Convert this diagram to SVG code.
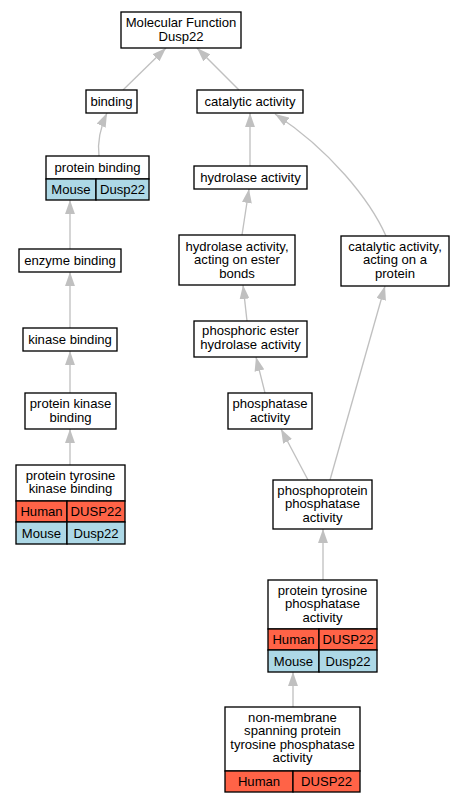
<svg xmlns="http://www.w3.org/2000/svg" width="464" height="803" viewBox="0 0 464 803">
<style>
.n{fill:#fff;stroke:#000;stroke-width:1.33}
.h{fill:#ff6347;stroke:#000;stroke-width:1.33}
.m{fill:#add8e6;stroke:#000;stroke-width:1.33}
text{font-family:"Liberation Sans",Arial,sans-serif;font-size:13.1px;fill:#000;text-anchor:middle}
.e{fill:none;stroke:#c0c0c0;stroke-width:1.33;marker-end:url(#arr)}
</style>
<defs>
<marker id="arr" markerUnits="userSpaceOnUse" markerWidth="14" markerHeight="10" viewBox="0 0 13.3 9.4" refX="13.3" refY="4.7" orient="auto">
<path d="M0,0 L13.3,4.7 L0,9.4 z" fill="#c0c0c0"/>
</marker>
</defs>
<g id="edges">
<path class="e" d="M123,90 L166,48"/>
<path class="e" d="M239,90 L197,48"/>
<path class="e" d="M99,156 C97,140 101,126 107,113"/>
<path class="e" d="M250,166 L250,113"/>
<path class="e" d="M386,236 C370,200 330,150 275,114"/>
<path class="e" d="M70,249 L70,200"/>
<path class="e" d="M70,328 L70,272"/>
<path class="e" d="M70,393 L70,351"/>
<path class="e" d="M70,465 L70,429"/>
<path class="e" d="M242,235 L249,189"/>
<path class="e" d="M247,321 L243,285"/>
<path class="e" d="M265,393 L256,357"/>
<path class="e" d="M308,480 L281,429"/>
<path class="e" d="M330,480 L385,286"/>
<path class="e" d="M323,580 L323,529"/>
<path class="e" d="M293,707 L293,672"/>
</g>
<g id="n_mf">
<rect class="n" x="121" y="12" width="120" height="36"/>
<text x="181" y="27">Molecular Function</text>
<text x="181" y="40.5">Dusp22</text>
</g>
<g id="n_binding">
<rect class="n" x="86" y="90" width="51" height="23"/>
<text x="111.5" y="106">binding</text>
</g>
<g id="n_catalytic">
<rect class="n" x="197" y="90" width="106" height="23"/>
<text x="250" y="106">catalytic activity</text>
</g>
<g id="n_protein_binding">
<rect class="n" x="46" y="156" width="103" height="23"/>
<text x="97.5" y="172">protein binding</text>
<rect class="m" x="46" y="179" width="50" height="21"/>
<rect class="m" x="96" y="179" width="53" height="21"/>
<text x="71" y="194">Mouse</text>
<text x="122.5" y="194">Dusp22</text>
</g>
<g id="n_hydrolase">
<rect class="n" x="194" y="166" width="113" height="23"/>
<text x="250.5" y="182">hydrolase activity</text>
</g>
<g id="n_enzyme_binding">
<rect class="n" x="19" y="249" width="102" height="23"/>
<text x="70" y="265">enzyme binding</text>
</g>
<g id="n_hydrolase_ester">
<rect class="n" x="179" y="235" width="116" height="50"/>
<text x="237" y="250.5">hydrolase activity,</text>
<text x="237" y="264">acting on ester</text>
<text x="237" y="277.5">bonds</text>
</g>
<g id="n_catalytic_protein">
<rect class="n" x="341" y="236" width="108" height="50"/>
<text x="395" y="250.5">catalytic activity,</text>
<text x="395" y="264">acting on a</text>
<text x="395" y="277.5">protein</text>
</g>
<g id="n_kinase_binding">
<rect class="n" x="23" y="328" width="94" height="23"/>
<text x="70" y="344">kinase binding</text>
</g>
<g id="n_phosphoric">
<rect class="n" x="194" y="321" width="113" height="36"/>
<text x="250.5" y="335">phosphoric ester</text>
<text x="250.5" y="348.5">hydrolase activity</text>
</g>
<g id="n_protein_kinase_binding">
<rect class="n" x="25" y="393" width="91" height="36"/>
<text x="70.5" y="408">protein kinase</text>
<text x="70.5" y="421.5">binding</text>
</g>
<g id="n_phosphatase">
<rect class="n" x="228" y="393" width="84" height="36"/>
<text x="270" y="408">phosphatase</text>
<text x="270" y="421.5">activity</text>
</g>
<g id="n_ptk_binding">
<rect class="n" x="16" y="465" width="109" height="36"/>
<text x="70.5" y="479.5">protein tyrosine</text>
<text x="70.5" y="493">kinase binding</text>
<rect class="h" x="16" y="501" width="51" height="21"/>
<rect class="h" x="67" y="501" width="58" height="21"/>
<text x="41.5" y="516">Human</text>
<text x="96" y="516">DUSP22</text>
<rect class="m" x="16" y="522" width="51" height="22"/>
<rect class="m" x="67" y="522" width="58" height="22"/>
<text x="41.5" y="537.5">Mouse</text>
<text x="96" y="537.5">Dusp22</text>
</g>
<g id="n_phosphoprotein">
<rect class="n" x="273" y="480" width="99" height="49"/>
<text x="322.5" y="494.5">phosphoprotein</text>
<text x="322.5" y="508">phosphatase</text>
<text x="322.5" y="521.5">activity</text>
</g>
<g id="n_ptp">
<rect class="n" x="268" y="580" width="109" height="49"/>
<text x="322.5" y="594.5">protein tyrosine</text>
<text x="322.5" y="608">phosphatase</text>
<text x="322.5" y="621.5">activity</text>
<rect class="h" x="268" y="629" width="51" height="21"/>
<rect class="h" x="319" y="629" width="58" height="21"/>
<text x="293.5" y="644">Human</text>
<text x="348" y="644">DUSP22</text>
<rect class="m" x="268" y="650" width="51" height="22"/>
<rect class="m" x="319" y="650" width="58" height="22"/>
<text x="293.5" y="665.5">Mouse</text>
<text x="348" y="665.5">Dusp22</text>
</g>
<g id="n_nonmembrane">
<rect class="n" x="225" y="707" width="135" height="64"/>
<text x="292.5" y="721.5">non-membrane</text>
<text x="292.5" y="735">spanning protein</text>
<text x="292.5" y="748.5">tyrosine phosphatase</text>
<text x="292.5" y="762">activity</text>
<rect class="h" x="225" y="771" width="68" height="21"/>
<rect class="h" x="293" y="771" width="67" height="21"/>
<text x="259" y="786">Human</text>
<text x="326.5" y="786">DUSP22</text>
</g>
</svg>
